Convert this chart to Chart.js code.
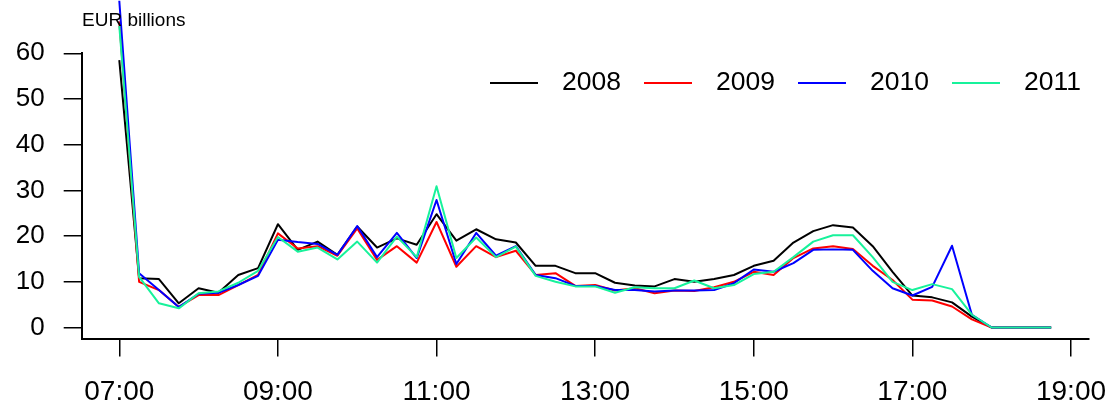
<!DOCTYPE html>
<html>
<head>
<meta charset="utf-8">
<script src="https://cdn.jsdelivr.net/npm/chart.js@4"></script>
<style>
  html, body { margin: 0; padding: 0; background: #fff; }
  #wrap { width: 1113px; height: 407px; }
</style>
</head>
<body>
<div id="wrap"><canvas id="chart" width="1113" height="407"></canvas></div>
<script>
// quarter-hour slots
const times = ['07:00','07:15','07:30','07:45','08:00','08:15','08:30','08:45',
               '09:00','09:15','09:30','09:45','10:00','10:15','10:30','10:45',
               '11:00','11:15','11:30','11:45','12:00','12:15','12:30','12:45',
               '13:00','13:15','13:30','13:45','14:00','14:15','14:30','14:45',
               '15:00','15:15','15:30','15:45','16:00','16:15','16:30','16:45',
               '17:00','17:15','17:30','17:45','18:00','18:15','18:30','18:45'];

const years = ['2008', '2009', '2010', '2011'];
const colors = ['#000000', '#ff0000', '#0000ff', '#17f29b'];

// EUR billions per slot
const v2008 = [58.5,10.8,10.6,5.3,8.6,7.6,11.5,13.0, 22.6,17.0,18.8,15.9,22.1,17.5,19.5,18.1,
               24.8,19.0,21.5,19.3,18.6,13.5,13.5,11.9, 11.9,9.8,9.2,9.0,10.6,10.0,10.6,11.5,
               13.5,14.6,18.6,21.1,22.4,21.9,17.8,12.2, 7.0,6.6,5.5,2.4,0,0,0,0];
const v2009 = [67.0,10.0,8.2,4.5,7.1,7.1,9.3,11.5, 20.6,17.3,17.8,15.7,21.7,14.8,17.8,14.2,
               23.1,13.3,17.8,15.4,16.8,11.5,11.9,9.1, 9.3,8.1,8.6,7.5,8.1,8.0,8.8,10.0,
               12.2,11.5,15.2,17.3,17.8,17.2,13.5,10.4, 6.1,5.9,4.6,1.8,0,0,0,0];
const v2010 = [71.5,11.9,8.2,4.5,7.4,7.6,9.3,11.3, 19.2,18.7,18.3,15.9,22.2,15.4,20.7,15.2,
               27.9,13.9,20.7,15.7,17.8,11.5,10.8,9.1, 9.1,8.2,8.2,7.9,8.1,8.1,8.2,9.7,
               12.7,12.2,14.1,17.0,17.1,17.0,12.4,8.6, 7.0,8.9,17.9,2.8,0,0,0,0];
const v2011 = [66.0,11.1,5.3,4.2,7.5,7.9,9.8,12.4, 19.8,16.6,17.5,14.9,18.8,14.2,19.9,15.4,
               30.9,15.2,19.7,15.4,17.7,11.3,10.0,9.0, 9.0,7.6,8.8,8.6,8.6,10.3,8.6,9.3,
               11.7,12.2,15.4,18.8,20.2,20.2,15.4,10.0, 8.2,9.5,8.4,2.8,0,0,0,0];

const xTicks = [7, 9, 11, 13, 15, 17, 19];
const yTicks = [0, 10, 20, 30, 40, 50, 60];

const FONT = "'Liberation Sans', Arial, Helvetica, sans-serif";

function toHours(t) {
    const p = t.split(':');
    return +p[0] + +p[1] / 60;
}
function fmtHour(h) {
    return String(h).padStart(2, '0') + ':00';
}

const series = [v2008, v2009, v2010, v2011];
const datasets = series.map((vals, i) => ({
    label: years[i],
    data: vals.map((v, k) => ({ x: toHours(times[k]), y: v })),
    borderColor: colors[i],
    backgroundColor: colors[i],
    borderWidth: 2,
    borderJoinStyle: 'round',
    pointRadius: 0,
    tension: 0,
    clip: false,
    order: 4 - i
}));

// legend and unit label, drawn like the R plot
const extras = {
    id: 'extras',
    afterDraw(chart) {
        const ctx = chart.ctx;
        ctx.save();
        ctx.fillStyle = '#000';
        ctx.font = '19px ' + FONT;
        ctx.textAlign = 'left';
        ctx.textBaseline = 'alphabetic';
        ctx.fillText('EUR billions', 82, 26);

        ctx.font = '26.5px ' + FONT;
        ctx.textBaseline = 'middle';
        const y = 83;
        chart.data.datasets.forEach((ds, i) => {
            const x0 = 490 + i * 154;
            ctx.strokeStyle = ds.borderColor;
            ctx.lineWidth = 2;
            ctx.beginPath();
            ctx.moveTo(x0, y);
            ctx.lineTo(x0 + 48, y);
            ctx.stroke();
            ctx.fillStyle = '#000';
            ctx.fillText(ds.label, x0 + 72, y);
        });
        ctx.restore();
    }
};

new Chart(document.getElementById('chart'), {
    type: 'line',
    data: { datasets },
    options: {
        responsive: false,
        animation: false,
        devicePixelRatio: 1,
        layout: { padding: { top: 53.3, right: 24, left: 0, bottom: 0 } },
        plugins: {
            legend: { display: false },
            tooltip: { enabled: false }
        },
        scales: {
            x: {
                type: 'linear',
                min: 6.526,
                max: 19.227,
                afterBuildTicks: s => { s.ticks = xTicks.map(v => ({ value: v })); },
                afterFit: s => { s.height = 68.5; s.paddingLeft = 0; s.paddingRight = 0; },
                grid: { drawOnChartArea: false, drawTicks: true, tickLength: 18, color: '#000', lineWidth: 1.5 },
                border: { display: true, color: '#000', width: 2 },
                ticks: {
                    color: '#000',
                    font: { family: FONT, size: 28 },
                    padding: 19,
                    maxRotation: 0,
                    callback: v => fmtHour(v)
                }
            },
            y: {
                type: 'linear',
                min: -2.4,
                max: 60,
                afterBuildTicks: s => { s.ticks = yTicks.map(v => ({ value: v })); },
                afterFit: s => { s.width = 81.7; s.paddingTop = 0; s.paddingBottom = 0; },
                grid: { drawOnChartArea: false, drawTicks: true, tickLength: 18, color: '#000', lineWidth: 1.5 },
                border: { display: true, color: '#000', width: 2 },
                ticks: {
                    color: '#000',
                    font: { family: FONT, size: 26 },
                    padding: 19
                }
            }
        }
    },
    plugins: [extras]
});
</script>
</body>
</html>
